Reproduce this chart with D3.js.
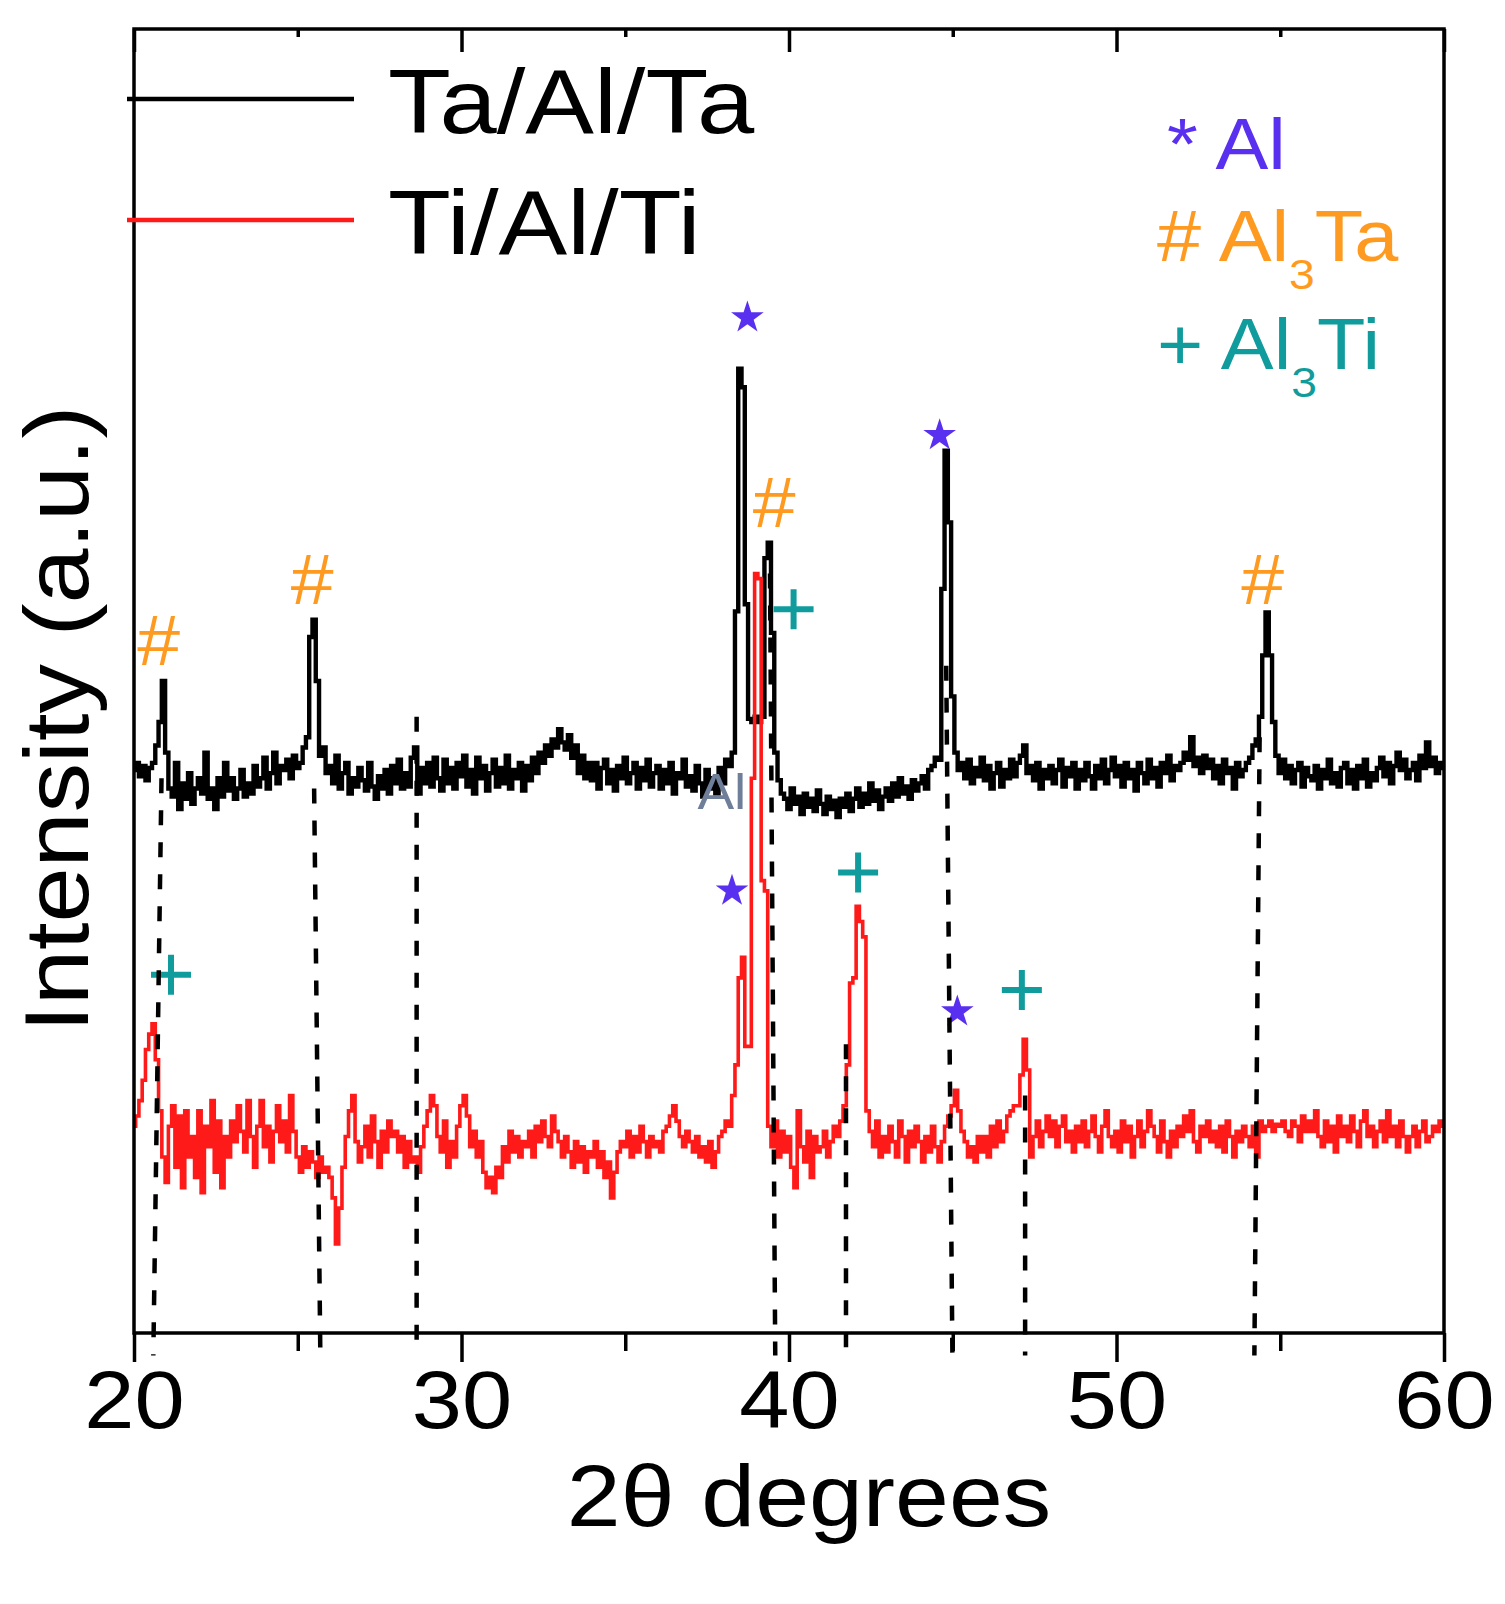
<!DOCTYPE html>
<html><head><meta charset="utf-8">
<script src="https://cdn.jsdelivr.net/npm/d3@7"></script>
<style>html,body{margin:0;padding:0;background:#fff;} svg{display:block;}</style>
</head><body>
<svg id="chart" width="1505" height="1604"></svg>
<script>
// ---- data ----
const scanStart = 20, scanStep = 0.1;   // 2θ of first sample, sampling step (degrees)

// Ta/Al/Ta intensity (a.u., offset trace), 20.0 .. 60.0 deg
const taAlTa = [
 550,557,544,554,540,552,557,574,597,637,
 567,532,524,557,512,537,522,547,517,532,
 542,527,567,522,532,512,542,524,557,530,
 542,522,532,550,524,537,527,554,534,542,
 562,532,547,567,537,554,550,560,542,564,
 552,557,572,582,680,697,637,564,572,547,
 554,537,564,532,547,557,527,542,534,552,
 540,530,557,534,522,544,532,550,527,554,
 537,560,532,547,534,562,572,527,552,537,
 557,534,562,542,530,560,537,552,532,557,
 544,564,534,550,527,562,542,554,530,547,
 560,534,552,537,564,532,550,542,557,530,
 554,540,562,547,567,557,574,564,580,572,
 590,577,570,584,562,574,547,564,542,557,
 540,557,532,552,560,537,550,530,554,542,
 562,537,547,557,532,552,540,560,534,547,
 554,532,550,537,557,527,547,542,560,534,
 544,530,554,537,524,550,532,542,527,552,
 537,560,554,567,705,942,924,712,600,597,
 602,597,602,757,772,684,567,540,527,522,
 512,532,517,524,507,527,514,522,510,530,
 517,507,524,512,520,504,522,514,527,510,
 522,532,514,527,517,537,520,530,512,524,
 532,520,537,524,542,527,534,522,540,530,
 537,544,532,550,554,562,560,727,862,792,
 622,567,550,557,542,560,537,552,544,562,
 540,554,532,547,557,534,550,542,560,544,
 557,564,574,547,554,540,557,532,550,542,
 554,537,550,560,534,552,544,557,532,550,
 540,557,544,532,554,542,560,537,550,562,
 544,554,534,557,542,550,530,557,547,537,
 560,542,552,534,557,547,564,540,554,550,
 557,567,560,582,554,562,547,564,552,560,
 542,554,537,560,547,552,532,557,544,550,
 557,562,574,580,602,662,704,662,597,564,
 547,560,542,554,537,550,557,534,552,544,
 540,554,532,550,542,560,537,547,534,552,
 557,537,550,532,554,542,560,534,547,540,
 552,562,544,557,537,554,567,550,560,542,
 550,557,540,564,552,577,554,562,547,557,
 552
];

// Ti/Al/Ti intensity (a.u., offset trace), 20.0 .. 60.0 deg
const tiAlTi = [
 202,212,227,247,277,292,302,267,217,172,
 147,202,222,162,212,142,217,172,192,152,
 217,137,202,182,227,157,207,142,192,172,
 207,187,222,197,177,227,192,162,202,227,
 182,202,167,197,222,187,207,177,232,197,
 172,157,182,162,177,167,152,172,157,162,
 152,132,87,122,162,192,217,232,187,167,
 182,202,172,212,187,162,197,177,207,192,
 197,177,192,162,187,167,172,157,182,202,
 217,232,222,192,177,207,162,187,172,202,
 222,232,212,182,197,172,187,157,142,152,
 137,162,152,182,167,197,177,192,172,187,
 182,197,172,202,187,207,192,182,212,197,
 187,172,192,177,162,187,167,182,157,177,
 172,187,162,177,152,167,132,157,177,187,
 182,197,172,192,177,202,187,172,192,182,
 187,177,197,202,212,222,207,192,182,197,
 187,177,192,172,182,167,187,162,177,192,
 197,207,202,232,262,347,367,280,280,542,
 742,737,442,432,202,182,207,172,197,177,
 192,162,142,217,182,167,197,152,192,177,
 182,197,172,187,202,192,207,222,262,342,
 347,417,402,387,217,197,182,207,172,192,
 177,202,187,172,207,192,167,197,182,202,
 187,167,192,177,202,182,167,187,202,212,
 222,237,217,197,187,172,182,167,192,177,
 192,172,202,182,207,187,197,212,217,222,
 222,252,287,257,172,192,207,182,197,212,
 192,207,182,202,212,187,197,177,202,187,
 207,182,197,212,192,177,202,217,192,182,
 197,177,207,187,202,172,192,207,182,197,
 217,202,192,177,207,187,172,197,182,202,
 192,212,197,217,187,177,202,192,207,187,
 197,182,202,177,207,192,172,197,187,202,
 192,182,202,172,207,197,202,207,197,204,
 202,207,197,192,207,202,187,212,197,207,
 197,217,192,182,207,187,202,177,212,192,
 202,187,212,197,182,207,217,192,202,182,
 197,207,187,217,192,202,182,207,192,177,
 192,202,182,197,207,187,192,202,197,207,
 202
];

const seriesNames = ["Ta/Al/Ta", "Ti/Al/Ti"];
const xDomain = [20, 60];
const yDomain = [0, 1274];
const xMajorTicks = [20, 30, 40, 50, 60];
const xMinorTicks = [25, 35, 45, 55];
const xTitle = "2θ degrees";
const yTitle = "Intensity (a.u.)";

// phase identification marks: phase, 2θ, intensity level of the mark centre
const markPhase = ["Al3Ta","Al3Ta","Al","Al3Ta","Al3Ti","Al","Al3Ta","Al3Ti","Al","Al3Ti","Al","Al3Ti"];
const markAngle = [20.75, 25.44, 38.73, 39.55, 40.14, 44.6, 54.46, 21.13, 38.26, 42.11, 45.14, 47.11];
const markLevel = [677, 737, 992, 812, 707, 877, 737, 350, 432, 450, 314, 335];

// dashed guide lines: 2θ at top end, 2θ at bottom end, level of top end
const guideTopAngle = [20.84, 25.5, 28.63, 39.42, 41.74, 44.8, 47.21, 54.37];
const guideBottomAngle = [20.59, 25.69, 28.63, 39.58, 41.74, 44.99, 47.21, 54.21];
const guideTopLevel = [542, 532, 602, 742, 282, 652, 232, 582];

// phase key
const keyPhase = ["Al", "Al3Ta", "Al3Ti"];
const keySymbol = ["*", "#", "+"];
const keyMain = ["Al", "Al", "Al"];
const keySub = ["", "3", "3"];
const keyTail = ["", "Ta", "Ti"];

// stray label in the figure
const strayLabel = {text: "Al", angle: 37.95, level: 512};

// ---- drawing ----
const plot = {left: 134, right: 1444, top: 29, bottom: 1333};
const SX = 1.1;  // horizontal glyph stretch of the original figure text
const FONT = "'Liberation Sans', Arial, sans-serif";
const phaseColor = {Al: "#5a30f0", Al3Ta: "#ff9a20", Al3Ti: "#109c9c"};
const seriesColor = ["#000000", "#ff1a1a"];

const svg = d3.select("#chart");
const x = d3.scaleLinear().domain(xDomain).range([plot.left, plot.right]);
const y = d3.scaleLinear().domain(yDomain).range([plot.bottom, plot.top]);

const angles = taAlTa.map((_, i) => +(scanStart + i * scanStep).toFixed(2));
const series = [taAlTa, tiAlTi].map(vals => vals.map((v, i) => [angles[i], v]));

// axes ticks
const gB = svg.append("g").attr("transform", `translate(0,${plot.bottom})`);
gB.call(d3.axisBottom(x).tickValues(xMajorTicks).tickSize(29).tickPadding(8).tickSizeOuter(0).tickFormat(d3.format("d")));
gB.append("g").call(d3.axisBottom(x).tickValues(xMinorTicks).tickSize(18).tickSizeOuter(0).tickFormat(""));
gB.selectAll(".domain").remove();
gB.selectAll("line").attr("stroke", "#000").attr("stroke-width", 3.5);
gB.selectAll("text").attr("font-family", FONT).attr("font-size", 82).attr("fill", "#000")
  .attr("transform", `scale(${SX},1)`);

const gT = svg.append("g").attr("transform", `translate(0,${plot.top})`);
gT.call(d3.axisTop(x).tickValues(xMajorTicks).tickSize(-23).tickSizeOuter(0).tickFormat(""));
gT.append("g").call(d3.axisTop(x).tickValues(xMinorTicks).tickSize(-8).tickSizeOuter(0).tickFormat(""));
gT.selectAll(".domain").remove();
gT.selectAll("line").attr("stroke", "#000").attr("stroke-width", 3.5);

// curves
const line = d3.line().x(d => x(d[0])).y(d => y(d[1])).curve(d3.curveStep);
svg.append("path").datum(series[0]).attr("d", line).attr("fill", "none")
  .attr("stroke", seriesColor[0]).attr("stroke-width", 4.4).attr("stroke-linejoin", "miter");
svg.append("path").datum(series[1]).attr("d", line).attr("fill", "none")
  .attr("stroke", seriesColor[1]).attr("stroke-width", 3.6).attr("stroke-linejoin", "miter");

// phase marks
const marks = markPhase.map((p, i) => ({phase: p, angle: markAngle[i], level: markLevel[i]}));
const gm = svg.append("g");
marks.forEach(m => {
  const cx = x(m.angle), cy = y(m.level), c = phaseColor[m.phase];
  if (m.phase === "Al") {
    gm.append("path").attr("d", d3.symbol(d3.symbolStar, 330)())
      .attr("transform", `translate(${cx},${cy})`).attr("fill", c);
  } else if (m.phase === "Al3Ti") {
    gm.append("path").attr("d", `M${cx-20},${cy}H${cx+20}M${cx},${cy-20}V${cy+20}`)
      .attr("stroke", c).attr("stroke-width", 6).attr("fill", "none");
  } else {
    gm.append("text").attr("transform", `translate(${cx},${cy + 25}) scale(${SX},1)`)
      .attr("text-anchor", "middle").attr("font-family", FONT).attr("font-size", 70)
      .attr("fill", c).text("#");
  }
});

// stray label
svg.append("text").attr("transform", `translate(${x(strayLabel.angle)},${y(strayLabel.level)}) scale(${SX},1)`)
  .attr("text-anchor", "middle").attr("font-family", FONT).attr("font-size", 50)
  .attr("fill", "#6f7f99").text(strayLabel.text);

// dashed guides
const gg = svg.append("g");
guideTopAngle.forEach((a, i) => {
  gg.append("line").attr("x1", x(a)).attr("y1", y(guideTopLevel[i]))
    .attr("x2", x(guideBottomAngle[i])).attr("y2", y(-22))
    .attr("stroke", "#000").attr("stroke-width", 4.5).attr("stroke-dasharray", "15,17");
});

// frame
svg.append("rect").attr("x", plot.left).attr("y", plot.top)
  .attr("width", plot.right - plot.left).attr("height", plot.bottom - plot.top)
  .attr("fill", "none").attr("stroke", "#000").attr("stroke-width", 3.5);

// axis titles
svg.append("text").attr("transform", `translate(${(plot.left + plot.right) / 2 + 20},1526) scale(${SX},1)`)
  .attr("text-anchor", "middle").attr("font-family", FONT).attr("font-size", 88).attr("fill", "#000").text(xTitle);
svg.append("text").attr("transform", `translate(88,719) rotate(-90) scale(${SX},1)`)
  .attr("text-anchor", "middle").attr("font-family", FONT).attr("font-size", 90).attr("fill", "#000").text(yTitle);

// series legend
const legY = [99, 220], legText = [133, 254];
seriesNames.forEach((n, i) => {
  svg.append("line").attr("x1", 127).attr("x2", 354).attr("y1", legY[i]).attr("y2", legY[i])
    .attr("stroke", seriesColor[i]).attr("stroke-width", 4.5);
  svg.append("text").attr("transform", `translate(388,${legText[i]}) scale(${SX * 1.04},1)`)
    .attr("font-family", FONT).attr("font-size", 90).attr("fill", "#000").text(n);
});

// phase key
const keyX = [1167, 1157, 1157], keyY = [169, 261, 369];
keyPhase.forEach((p, i) => {
  const t = svg.append("text").attr("transform", `translate(${keyX[i]},${keyY[i]}) scale(${SX},1)`)
    .attr("font-family", FONT).attr("font-size", 72).attr("fill", phaseColor[p]);
  t.append("tspan").text(keySymbol[i] + " " + keyMain[i]);
  if (keySub[i]) {
    t.append("tspan").attr("font-size", 42).attr("dy", 28).text(keySub[i]);
    t.append("tspan").attr("dy", -28).text(keyTail[i]);
  }
});
</script>
</body></html>
